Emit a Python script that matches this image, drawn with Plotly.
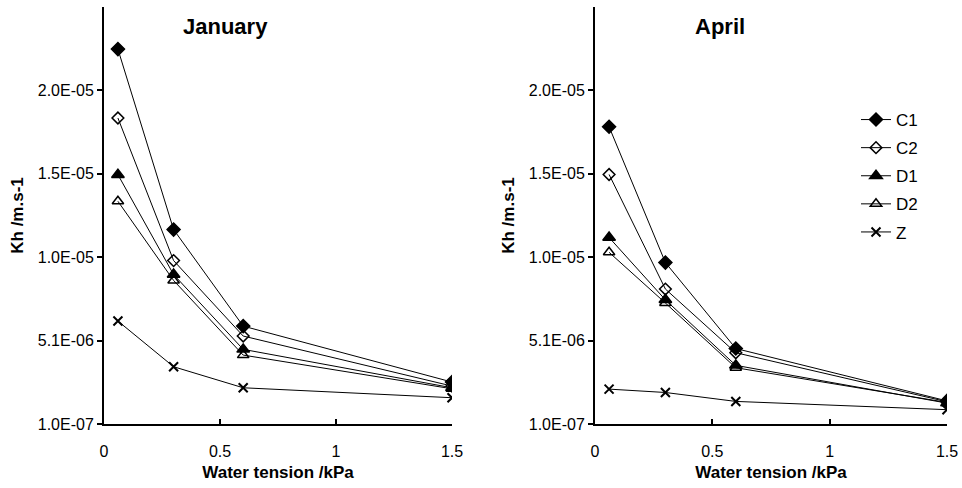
import plotly.graph_objects as go

tension = [0.06, 0.3, 0.6, 1.5]
series_names = ["C1", "C2", "D1", "D2", "Z"]
jan_C1 = [2.235e-5, 1.164e-5, 5.91e-6, 2.59e-6]
jan_C2 = [1.826e-5, 9.80e-6, 5.32e-6, 2.35e-6]
jan_D1 = [1.490e-5, 8.97e-6, 4.53e-6, 2.25e-6]
jan_D2 = [1.332e-5, 8.62e-6, 4.19e-6, 2.19e-6]
jan_Z = [6.21e-6, 3.50e-6, 2.25e-6, 1.66e-6]
apr_C1 = [1.774e-5, 9.68e-6, 4.58e-6, 1.47e-6]
apr_C2 = [1.491e-5, 8.11e-6, 4.33e-6, 1.42e-6]
apr_D1 = [1.117e-5, 7.47e-6, 3.58e-6, 1.34e-6]
apr_D2 = [1.029e-5, 7.28e-6, 3.44e-6, 1.38e-6]
apr_Z = [2.17e-6, 1.97e-6, 1.44e-6, 0.95e-6]
y_tickvals = [1.0e-7, 5.05e-6, 1.0e-5, 1.495e-5, 1.99e-5]
y_ticktext = ["1.0E-07", "5.1E-06", "1.0E-05", "1.5E-05", "2.0E-05"]
x_tickvals = [0, 0.5, 1, 1.5]
x_ticktext = ["0", "0.5", "1", "1.5"]

jan = [jan_C1, jan_C2, jan_D1, jan_D2, jan_Z]
apr = [apr_C1, apr_C2, apr_D1, apr_D2, apr_Z]
symbols = ["diamond", "diamond-open", "triangle-up", "triangle-up-open", "x-thin-open"]
sizes = [10, 9, 11, 10, 9]

FONT = "Liberation Sans, Arial, sans-serif"
fig = go.Figure()
for i, name in enumerate(series_names):
    fig.add_trace(go.Scatter(
        x=tension, y=jan[i], mode="lines+markers", name=name,
        line=dict(color="black", width=1),
        marker=dict(symbol=symbols[i], size=sizes[i], color="black",
                    line=dict(color="black", width=2 if i == 4 else 1.5)),
        xaxis="x", yaxis="y", showlegend=False))
for i, name in enumerate(series_names):
    fig.add_trace(go.Scatter(
        x=tension, y=apr[i], mode="lines+markers", name=name,
        line=dict(color="black", width=1),
        marker=dict(symbol=symbols[i], size=sizes[i], color="black",
                    line=dict(color="black", width=2 if i == 4 else 1.5)),
        xaxis="x2", yaxis="y2", legendgroup=name, showlegend=True))

W, H = 962, 488
yrange = [1e-7, 1e-7 + 5 * 4.95e-6]
ydom = [(H - 424) / H, (H - 7) / H]

def xax(dom):
    return dict(domain=dom, range=[0, 1.5], tickvals=x_tickvals, ticktext=x_ticktext,
                ticks="inside", ticklen=5, tickwidth=2, tickcolor="black",
                ticklabelstandoff=12,
                showline=True, linecolor="black", linewidth=2, showgrid=False,
                zeroline=False, automargin=False,
                tickfont=dict(size=16, color="black", family=FONT),
                title=dict(text="<b>Water tension /kPa</b>", standoff=7,
                           font=dict(size=17, color="black", family=FONT)))

def yax(dom_anchor):
    return dict(domain=ydom, range=yrange, tickvals=y_tickvals, ticktext=y_ticktext,
                ticks="outside", ticklen=5, tickwidth=2, tickcolor="black",
                showline=True, linecolor="black", linewidth=2, showgrid=False,
                zeroline=False, anchor=dom_anchor, automargin=False,
                tickfont=dict(size=16, color="black", family=FONT),
                title=dict(text="<b>Kh /m.s-1</b>", standoff=10,
                           font=dict(size=17, color="black", family=FONT)))

fig.update_layout(
    width=W, height=H,
    margin=dict(l=0, r=0, t=0, b=0, autoexpand=False),
    paper_bgcolor="white", plot_bgcolor="white",
    xaxis=dict(**xax([104 / W, 452 / W]), anchor="y"),
    yaxis=yax("x"),
    xaxis2=dict(**xax([595 / W, 947 / W]), anchor="y2"),
    yaxis2=yax("x2"),
    showlegend=True,
    legend=dict(x=856 / W, y=(H - 102) / H, xanchor="left", yanchor="top",
                font=dict(size=17, color="black", family=FONT),
                tracegroupgap=3, bgcolor="rgba(0,0,0,0)"),
    annotations=[
        dict(text="<b>January</b>", x=225 / W, y=(H - 27) / H, xref="paper", yref="paper",
             xanchor="center", yanchor="middle",
             showarrow=False, font=dict(size=22, color="black", family=FONT)),
        dict(text="<b>April</b>", x=720 / W, y=(H - 27) / H, xref="paper", yref="paper",
             xanchor="center", yanchor="middle",
             showarrow=False, font=dict(size=22, color="black", family=FONT)),
    ],
)
fig.write_html("out.html")
